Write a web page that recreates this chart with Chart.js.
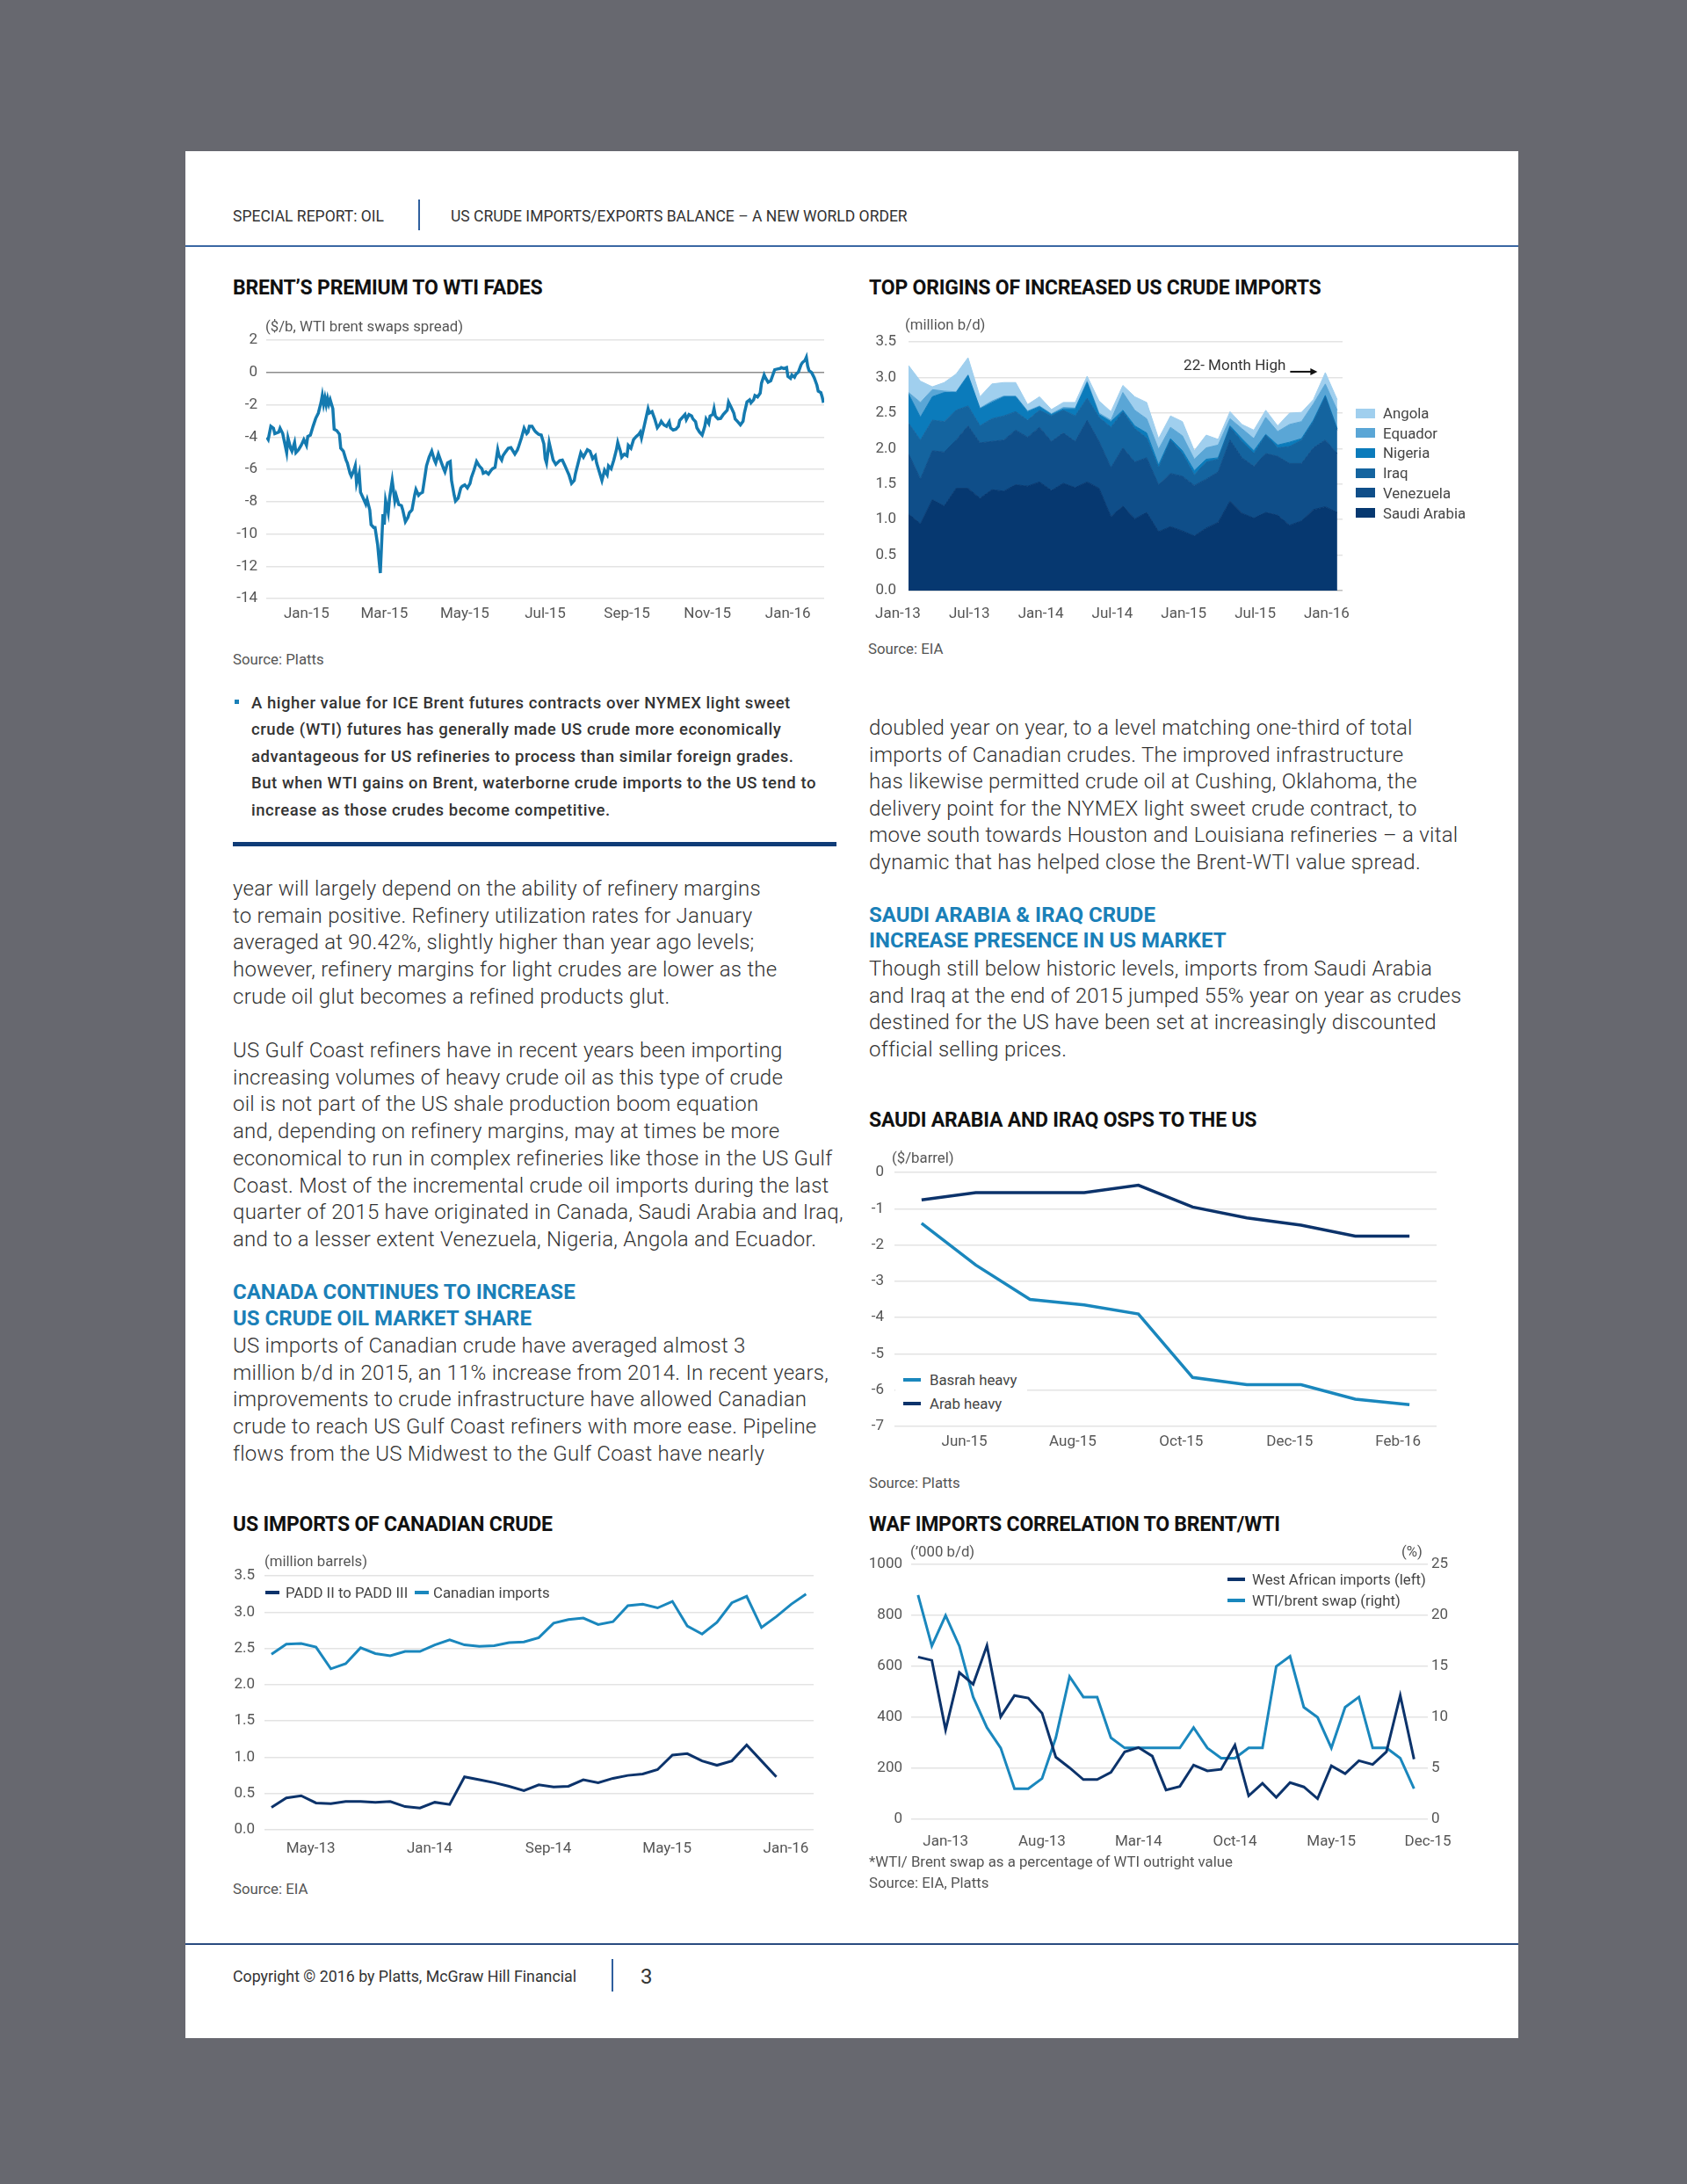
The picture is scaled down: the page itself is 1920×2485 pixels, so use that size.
<!DOCTYPE html>
<html>
<head>
<meta charset="utf-8">
<script src="https://cdn.jsdelivr.net/npm/chart.js@4.4.1/dist/chart.umd.min.js"></script>
<style>
html, body { margin: 0; padding: 0; }
body { width: 1920px; height: 2485px; background: #67686f; position: relative; overflow: hidden;
       font-family: Roboto, "Noto Sans", sans-serif; color: #333; }
#page { position: absolute; left: 211px; top: 172px; width: 1517px; height: 2147px; background: #fff; }
.t { position: absolute; white-space: nowrap; height: 30px; line-height: 30px; }
.blk { position: absolute; white-space: nowrap; }
.hdr { font-size: 17.5px; color: #333; }
.title { font-size: 23px; font-weight: 700; color: #111; letter-spacing: -0.2px; }
.sub { font-size: 16.8px; color: #555; }
.body { font-size: 24px; font-weight: 300; color: #333; line-height: 30.7px; letter-spacing: 0.25px; }
.head { font-size: 24px; font-weight: 700; color: #1a80b8; line-height: 30px; }
.bullet { font-size: 18.5px; font-weight: 500; color: #333; line-height: 30.45px; letter-spacing: 0.55px; }
.lg { position: absolute; height: 22px; line-height: 22px; font-size: 16.8px; color: #444; white-space: nowrap; }
.sw { position: absolute; }
.box { position: absolute; }
.rule { position: absolute; }
</style>
</head>
<body>
<div id="page"></div>

<!-- header -->
<div class="t hdr" style="left:265px;top:231px;">SPECIAL REPORT: OIL</div>
<div class="rule" style="left:476px;top:227px;width:1.5px;height:35px;background:#2f5f9e;"></div>
<div class="t hdr" style="left:513px;top:231px;">US CRUDE IMPORTS/EXPORTS BALANCE – A NEW WORLD ORDER</div>
<div class="rule" style="left:211px;top:279px;width:1517px;height:2px;background:#3a67a3;"></div>

<!-- chart canvases -->
<div class="box" style="left:262px;top:367px;width:706px;height:349px;"><canvas id="brentChart"></canvas></div>
<div class="box" style="left:980px;top:365px;width:593px;height:347px;"><canvas id="originChart"></canvas></div>
<div class="box" style="left:970px;top:1312px;width:685px;height:346px;"><canvas id="ospChart"></canvas></div>
<div class="box" style="left:255px;top:1772px;width:696px;height:350px;"><canvas id="canadaChart"></canvas></div>
<div class="box" style="left:985px;top:1760px;width:690px;height:350px;"><canvas id="wafChart"></canvas></div>

<!-- chart 1 texts -->
<div class="t title" style="left:265px;top:313px;">BRENT’S PREMIUM TO WTI FADES</div>
<div class="t sub" style="left:302px;top:356px;">($/b, WTI brent swaps spread)</div>
<div class="t sub" style="left:265px;top:735px;">Source: Platts</div>

<!-- chart 2 texts -->
<div class="t title" style="left:989px;top:313px;">TOP ORIGINS OF INCREASED US CRUDE IMPORTS</div>
<div class="t sub" style="left:1030px;top:354px;">(million b/d)</div>
<div class="t sub" style="left:988px;top:723px;">Source: EIA</div>
<div id="originLegend"></div>

<!-- bullet box -->
<div class="rule" style="left:267px;top:796px;width:5px;height:5px;background:#1a80b8;"></div>
<div class="blk bullet" style="left:286px;top:785px;">A higher value for ICE Brent futures contracts over NYMEX light sweet<br>crude (WTI) futures has generally made US crude more economically<br>advantageous for US refineries to process than similar foreign grades.<br>But when WTI gains on Brent, waterborne crude imports to the US tend to<br>increase as those crudes become competitive.</div>
<div class="rule" style="left:265px;top:958px;width:687px;height:5px;background:#0f3c77;"></div>

<!-- left column body -->
<div class="blk body" style="left:265px;top:996px;">year will largely depend on the ability of refinery margins<br>to remain positive. Refinery utilization rates for January<br>averaged at 90.42%, slightly higher than year ago levels;<br>however, refinery margins for light crudes are lower as the<br>crude oil glut becomes a refined products glut.</div>
<div class="blk body" style="left:265px;top:1180px;">US Gulf Coast refiners have in recent years been importing<br>increasing volumes of heavy crude oil as this type of crude<br>oil is not part of the US shale production boom equation<br>and, depending on refinery margins, may at times be more<br>economical to run in complex refineries like those in the US Gulf<br>Coast. Most of the incremental crude oil imports during the last<br>quarter of 2015 have originated in Canada, Saudi Arabia and Iraq,<br>and to a lesser extent Venezuela, Nigeria, Angola and Ecuador.</div>
<div class="blk head" style="left:265px;top:1455px;">CANADA CONTINUES TO INCREASE<br>US CRUDE OIL MARKET SHARE</div>
<div class="blk body" style="left:265px;top:1516px;">US imports of Canadian crude have averaged almost 3<br>million b/d in 2015, an 11% increase from 2014. In recent years,<br>improvements to crude infrastructure have allowed Canadian<br>crude to reach US Gulf Coast refiners with more ease. Pipeline<br>flows from the US Midwest to the Gulf Coast have nearly</div>

<!-- right column body -->
<div class="blk body" style="left:989px;top:813px;line-height:30.6px;">doubled year on year, to a level matching one-third of total<br>imports of Canadian crudes. The improved infrastructure<br>has likewise permitted crude oil at Cushing, Oklahoma, the<br>delivery point for the NYMEX light sweet crude contract, to<br>move south towards Houston and Louisiana refineries – a vital<br>dynamic that has helped close the Brent-WTI value spread.</div>
<div class="blk head" style="left:989px;top:1027px;line-height:29.3px;">SAUDI ARABIA &amp; IRAQ CRUDE<br>INCREASE PRESENCE IN US MARKET</div>
<div class="blk body" style="left:989px;top:1087px;line-height:30.5px;">Though still below historic levels, imports from Saudi Arabia<br>and Iraq at the end of 2015 jumped 55% year on year as crudes<br>destined for the US have been set at increasingly discounted<br>official selling prices.</div>

<!-- chart 3 texts -->
<div class="t title" style="left:989px;top:1260px;">SAUDI ARABIA AND IRAQ OSPS TO THE US</div>
<div class="t sub" style="left:1015px;top:1302px;">($/barrel)</div>
<div class="rule" style="left:1019px;top:1556px;width:150px;height:52px;background:#fff;"></div>
<div class="sw" style="left:1028px;top:1568px;width:20px;height:4px;background:#1a87bd;"></div>
<div class="lg" style="left:1058px;top:1559px;">Basrah heavy</div>
<div class="sw" style="left:1028px;top:1595px;width:20px;height:4px;background:#0c336b;"></div>
<div class="lg" style="left:1058px;top:1586px;">Arab heavy</div>
<div class="t sub" style="left:989px;top:1672px;">Source: Platts</div>

<!-- chart 4 texts -->
<div class="t title" style="left:265px;top:1720px;">US IMPORTS OF CANADIAN CRUDE</div>
<div class="t sub" style="left:301px;top:1761px;">(million barrels)</div>
<div class="sw" style="left:302px;top:1810px;width:16px;height:4px;background:#0c336b;"></div>
<div class="lg" style="left:325px;top:1801px;">PADD II to PADD III</div>
<div class="sw" style="left:472px;top:1810px;width:16px;height:4px;background:#1a87bd;"></div>
<div class="lg" style="left:493px;top:1801px;">Canadian imports</div>
<div class="t sub" style="left:265px;top:2134px;">Source: EIA</div>

<!-- chart 5 texts -->
<div class="t title" style="left:989px;top:1720px;">WAF IMPORTS CORRELATION TO BRENT/WTI</div>
<div class="t sub" style="left:1036px;top:1750px;">(’000 b/d)</div>
<div class="t sub" style="left:1595px;top:1750px;">(%)</div>
<div class="sw" style="left:1397px;top:1795px;width:20px;height:4px;background:#0c336b;"></div>
<div class="lg" style="left:1425px;top:1786px;">West African imports (left)</div>
<div class="sw" style="left:1397px;top:1819px;width:20px;height:4px;background:#1a87bd;"></div>
<div class="lg" style="left:1425px;top:1810px;">WTI/brent swap (right)</div>
<div class="t sub" style="left:989px;top:2103px;">*WTI/ Brent swap as a percentage of WTI outright value</div>
<div class="t sub" style="left:989px;top:2127px;">Source: EIA, Platts</div>

<!-- footer -->
<div class="rule" style="left:211px;top:2211px;width:1517px;height:2px;background:#2a4b80;"></div>
<div class="t hdr" style="left:265px;top:2234px;font-size:17.8px;">Copyright © 2016 by Platts, McGraw Hill Financial</div>
<div class="rule" style="left:696px;top:2229px;width:1.5px;height:37px;background:#2f5f9e;"></div>
<div class="t" style="left:729px;top:2234px;font-size:24px;color:#333;">3</div>

<script>
// ---- Brent's premium to WTI (days counted from 1 Jan 2015) ----
const brentDays = [-30,-29,-27,-25,-24,-21,-20,-18,-17,-15,-14,-12,-11,-9,-8,-6,-4,-2,0,1,3,5,7,9,11,12,13,14,15,16,17,18,20,21,23,25,26,28,30,31,33,34,36,37,38,40,41,43,45,46,48,49,51,52,54,55,56,58,59,60,62,63,65,67,68,70,72,73,75,77,78,80,82,83,85,86,88,90,91,93,95,97,98,100,102,104,105,107,109,110,112,113,115,117,118,120,122,124,125,127,129,131,133,134,136,138,140,141,143,145,146,148,149,151,153,155,156,158,160,161,163,165,167,168,169,171,173,174,176,178,180,181,182,184,185,187,189,192,194,196,198,199,201,203,204,206,208,210,213,215,217,219,220,222,224,226,228,229,231,233,235,236,238,239,241,243,244,246,248,250,252,253,254,256,257,259,260,262,264,266,268,269,271,273,275,276,278,280,282,283,285,287,288,290,292,293,295,296,298,300,302,303,305,306,308,309,310,312,314,316,317,319,320,322,324,325,327,329,331,332,334,336,337,339,340,342,344,345,347,348,350,352,354,355,357,359,360,362,364,365,367,368,370,371,373,375,376,378,379,380,381,383,385,387,388,390,391,392];
const brentSpread = [-4.02,-4.15,-3.33,-3.45,-3.78,-3.69,-3.45,-3.78,-4.18,-4.96,-4.05,-4.69,-4.87,-4.33,-4.96,-4.78,-4.51,-4.15,-4.51,-3.96,-3.87,-3.33,-2.84,-2.51,-1.87,-1.42,-1.96,-1.56,-2.0,-1.6,-1.96,-1.69,-2.24,-3.51,-3.6,-3.82,-4.69,-4.87,-5.42,-5.6,-6.24,-6.42,-6.05,-5.78,-6.87,-6.24,-7.42,-7.78,-8.15,-7.87,-8.51,-9.42,-9.6,-9.6,-10.69,-11.6,-12.42,-8.78,-9.42,-7.93,-8.69,-7.78,-6.69,-7.96,-7.6,-8.18,-8.24,-8.51,-9.24,-8.96,-8.69,-8.51,-7.6,-7.24,-7.6,-7.51,-7.42,-6.33,-5.78,-5.24,-4.87,-5.42,-5.6,-5.05,-5.51,-5.96,-6.15,-5.6,-5.51,-6.69,-7.6,-7.96,-7.78,-7.15,-7.05,-6.96,-7.15,-6.87,-6.51,-6.05,-5.51,-5.78,-5.96,-6.24,-6.15,-6.29,-6.05,-5.96,-5.87,-4.78,-5.15,-5.42,-5.15,-4.91,-4.69,-4.65,-4.78,-5.05,-4.78,-4.55,-4.05,-3.45,-3.78,-3.69,-3.33,-3.33,-3.6,-3.69,-3.82,-3.87,-4.42,-5.33,-5.6,-4.33,-4.69,-5.42,-5.69,-5.45,-5.42,-5.78,-6.15,-6.33,-6.87,-6.69,-6.24,-5.6,-4.96,-5.24,-4.78,-4.87,-5.33,-5.15,-5.6,-6.15,-6.69,-6.05,-6.33,-5.78,-5.96,-5.42,-4.78,-4.33,-4.87,-5.24,-5.05,-5.15,-4.51,-4.69,-4.15,-3.96,-3.82,-3.69,-4.05,-3.33,-2.96,-2.24,-2.51,-2.42,-2.87,-3.42,-3.2,-3.02,-3.24,-3.33,-3.05,-3.42,-3.56,-3.51,-3.33,-2.96,-2.78,-2.6,-2.91,-2.6,-2.69,-2.87,-3.05,-3.42,-3.69,-3.87,-3.33,-2.87,-3.15,-2.69,-2.6,-2.24,-2.69,-2.87,-2.84,-2.6,-2.51,-2.33,-1.82,-2.15,-2.51,-2.87,-3.05,-3.24,-3.02,-2.51,-1.82,-1.69,-1.87,-1.69,-1.42,-1.51,-1.27,-0.65,-0.15,-0.33,-0.6,-0.51,-0.05,0.18,0.22,0.25,0.31,0.25,0.31,-0.24,-0.36,-0.15,-0.29,-0.11,0.04,0.49,0.62,0.76,0.95,0.4,0.13,0,-0.33,-0.78,-1.15,-1.24,-1.51,-1.87];
const brentTickDays = [0, 59, 120, 181, 243, 304, 365];
const brentTickLabels = ['Jan-15', 'Mar-15', 'May-15', 'Jul-15', 'Sep-15', 'Nov-15', 'Jan-16'];

// ---- Top origins of US crude imports (million b/d) ----
const originMonths = ['Jan-13','Feb-13','Mar-13','Apr-13','May-13','Jun-13','Jul-13','Aug-13','Sep-13','Oct-13','Nov-13','Dec-13',
  'Jan-14','Feb-14','Mar-14','Apr-14','May-14','Jun-14','Jul-14','Aug-14','Sep-14','Oct-14','Nov-14','Dec-14',
  'Jan-15','Feb-15','Mar-15','Apr-15','May-15','Jun-15','Jul-15','Aug-15','Sep-15','Oct-15','Nov-15','Dec-15','Jan-16'];
const originTickMonths = ['Jan-13', 'Jul-13', 'Jan-14', 'Jul-14', 'Jan-15', 'Jul-15', 'Jan-16'];
const saudiArabia = [1.08,0.94,1.28,1.19,1.44,1.44,1.30,1.42,1.40,1.49,1.47,1.53,1.41,1.51,1.45,1.53,1.44,1.04,1.19,1.01,1.10,0.83,0.90,0.84,0.77,0.88,0.96,1.26,1.09,1.02,1.10,1.06,0.92,0.98,1.14,1.18,1.10];
const venezuela = [0.85,0.63,0.69,0.76,0.68,0.88,0.78,0.68,0.72,0.77,0.69,0.77,0.69,0.71,0.65,0.87,0.66,0.69,0.82,0.80,0.77,0.66,0.75,0.77,0.71,0.69,0.71,0.86,0.78,0.73,0.83,0.83,0.87,0.81,0.87,0.94,0.83];
const iraq = [0.43,0.55,0.43,0.43,0.42,0.28,0.24,0.32,0.34,0.26,0.24,0.24,0.36,0.32,0.36,0.31,0.34,0.57,0.51,0.47,0.28,0.24,0.47,0.32,0.15,0.24,0.18,0.18,0.23,0.18,0.26,0.12,0.24,0.33,0.37,0.61,0.33];
const nigeria = [0.41,0.32,0.33,0.41,0.25,0.43,0.24,0.23,0.27,0.21,0.12,0.05,0.02,0.02,0.10,0.22,0.04,0.08,0.02,0.04,0.07,0.04,0.02,0.04,0.06,0.04,0.02,0.02,0.04,0.04,0.01,0.04,0.06,0.02,0.02,0.02,0.02];
const equador = [0.02,0.21,0.10,0.02,0.01,0.01,0.01,0.02,0.01,0.01,0.01,0.01,0.01,0.02,0.01,0.02,0.02,0.02,0.25,0.22,0.20,0.22,0.16,0.21,0.16,0.16,0.18,0.10,0.14,0.17,0.24,0.19,0.25,0.24,0.23,0.16,0.26];
const angola = [0.38,0.30,0.04,0.12,0.25,0.24,0.16,0.24,0.19,0.19,0.09,0.13,0.06,0.07,0.08,0.07,0.17,0.12,0.10,0.19,0.23,0.15,0.16,0.20,0.12,0.18,0.08,0.10,0.06,0.12,0.10,0.08,0.16,0.13,0.06,0.16,0.15];
const highMonth = 'Dec-15';

// ---- Saudi Arabia and Iraq OSPs to the US ($/barrel) ----
const ospMonths = ['May-15','Jun-15','Jul-15','Aug-15','Sep-15','Oct-15','Nov-15','Dec-15','Jan-16','Feb-16'];
const basrahHeavy = [-1.40,-2.55,-3.50,-3.65,-3.90,-5.65,-5.85,-5.85,-6.25,-6.40];
const arabHeavy = [-0.75,-0.55,-0.55,-0.55,-0.35,-0.95,-1.25,-1.45,-1.75,-1.75];

// ---- US imports of Canadian crude (million barrels) ----
const canadaMonths = ['Feb-13','Mar-13','Apr-13','May-13','Jun-13','Jul-13','Aug-13','Sep-13','Oct-13','Nov-13','Dec-13',
  'Jan-14','Feb-14','Mar-14','Apr-14','May-14','Jun-14','Jul-14','Aug-14','Sep-14','Oct-14','Nov-14','Dec-14',
  'Jan-15','Feb-15','Mar-15','Apr-15','May-15','Jun-15','Jul-15','Aug-15','Sep-15','Oct-15','Nov-15','Dec-15',
  'Jan-16','Feb-16'];
const canadaTickMonths = ['May-13', 'Jan-14', 'Sep-14', 'May-15', 'Jan-16'];
const canadianImports = [2.42,2.56,2.57,2.52,2.22,2.29,2.51,2.43,2.40,2.46,2.46,2.55,2.62,2.55,2.53,2.54,2.58,2.59,2.65,2.85,2.90,2.92,2.83,2.87,3.09,3.11,3.06,3.15,2.81,2.70,2.86,3.13,3.22,2.79,2.94,3.11,3.25];
const paddIItoIII = [0.31,0.44,0.47,0.37,0.36,0.39,0.39,0.38,0.39,0.32,0.30,0.38,0.35,0.73,0.69,0.65,0.60,0.54,0.62,0.59,0.60,0.69,0.65,0.71,0.75,0.77,0.83,1.03,1.05,0.95,0.89,0.95,1.17,0.95,0.73];

// ---- WAF imports vs Brent/WTI ----
const wafMonths = ['Nov-12','Dec-12',
  'Jan-13','Feb-13','Mar-13','Apr-13','May-13','Jun-13','Jul-13','Aug-13','Sep-13','Oct-13','Nov-13','Dec-13',
  'Jan-14','Feb-14','Mar-14','Apr-14','May-14','Jun-14','Jul-14','Aug-14','Sep-14','Oct-14','Nov-14','Dec-14',
  'Jan-15','Feb-15','Mar-15','Apr-15','May-15','Jun-15','Jul-15','Aug-15','Sep-15','Oct-15','Nov-15','Dec-15'];
const wafTickMonths = ['Jan-13', 'Aug-13', 'Mar-14', 'Oct-14', 'May-15', 'Dec-15'];
const westAfricanImports = [637,624,351,576,530,682,403,486,476,417,244,202,156,156,184,265,282,248,115,129,213,190,196,291,92,141,86,144,127,81,210,179,230,215,265,486,236];
const wtiBrentSwap = [22,17,20,17,12,9,7,3,3,4,8,14,12,12,8,7,7,7,7,7,9,7,6,6,7,7,15,16,11,10,7,11,12,7,7,6,3];

const LIGHT = '#1a87bd', NAVY = '#0c336b';

Chart.defaults.font.family = 'Roboto, "Noto Sans", sans-serif';
Chart.defaults.font.size = 17;
Chart.defaults.color = '#555';
Chart.defaults.animation = false;
Chart.defaults.plugins.legend.display = false;
Chart.defaults.plugins.tooltip.enabled = false;
Chart.defaults.elements.point.radius = 0;
Chart.defaults.elements.line.tension = 0;

const fixW = w => s => { s.width = w; };
const fixH = h => s => { s.height = h; };
const xy = (xs, ys) => ys.map((v, i) => ({ x: xs[i], y: v }));
const idx = ys => ys.map((v, i) => ({ x: i, y: v }));
const gridY = (zero) => ({
    color: c => (c.tick && c.tick.value === 0 && zero) ? zero : '#e3e3e3',
    lineWidth: 1.5, drawTicks: false,
});
const monthTicks = (months, wanted) => s => { s.ticks = wanted.map(m => ({ value: months.indexOf(m) })); };

// chart 1
new Chart(document.getElementById('brentChart'), {
    type: 'line',
    data: { datasets: [{ data: xy(brentDays, brentSpread), borderColor: '#147ab0', borderWidth: 3.5, fill: false }] },
    options: {
        responsive: true, maintainAspectRatio: false,
        layout: { padding: { top: 20, right: 30, left: 0, bottom: 0 } },
        scales: {
            x: {
                type: 'linear', min: -30.5, max: 392.5,
                afterBuildTicks: s => { s.ticks = brentTickDays.map(v => ({ value: v })); },
                afterFit: fixH(35),
                grid: { display: false, drawTicks: false }, border: { display: false },
                ticks: { autoSkip: false, maxRotation: 0, padding: 8, callback: (v, i) => brentTickLabels[i] },
            },
            y: {
                min: -14, max: 2, afterFit: fixW(41),
                grid: gridY('#8c8c8c'), border: { display: false },
                ticks: { stepSize: 2, padding: 10 },
            },
        },
    },
});

// chart 2
const originSeries = [
    { name: 'Saudi Arabia', data: saudiArabia, color: '#063870' },
    { name: 'Venezuela', data: venezuela, color: '#0f4e89' },
    { name: 'Iraq', data: iraq, color: '#14649f' },
    { name: 'Nigeria', data: nigeria, color: '#0b7bbb' },
    { name: 'Equador', data: equador, color: '#5aa6d6' },
    { name: 'Angola', data: angola, color: '#a0cfee' },
];
const highArrow = {
    id: 'highArrow',
    afterDatasetsDraw(chart) {
        const { ctx, scales: { x, y } } = chart;
        const i = originMonths.indexOf(highMonth);
        const total = originSeries.reduce((s, d) => s + d.data[i], 0);
        const tx = x.getPixelForValue(i) - 9, ty = y.getPixelForValue(total) - 1;
        ctx.save();
        ctx.strokeStyle = '#111'; ctx.fillStyle = '#111'; ctx.lineWidth = 2;
        ctx.beginPath(); ctx.moveTo(tx - 31, ty); ctx.lineTo(tx - 4, ty); ctx.stroke();
        ctx.beginPath(); ctx.moveTo(tx, ty); ctx.lineTo(tx - 8, ty - 4); ctx.lineTo(tx - 8, ty + 4); ctx.closePath(); ctx.fill();
        ctx.fillStyle = '#333'; ctx.font = '17px Roboto, sans-serif';
        ctx.textAlign = 'right'; ctx.textBaseline = 'middle';
        ctx.fillText('22- Month High', tx - 36, ty - 6);
        ctx.restore();
    },
};
new Chart(document.getElementById('originChart'), {
    type: 'line',
    data: {
        datasets: originSeries.map((s, k) => ({
            label: s.name, data: idx(s.data), backgroundColor: s.color, borderColor: s.color,
            borderWidth: 1, fill: k === 0 ? 'origin' : '-1',
        })),
    },
    options: {
        responsive: true, maintainAspectRatio: false,
        layout: { padding: { top: 20, right: 45, left: 0, bottom: 0 } },
        scales: {
            x: {
                type: 'linear', min: 0, max: 36.45,
                afterBuildTicks: monthTicks(originMonths, originTickMonths),
                afterFit: fixH(40),
                grid: { display: false, drawTicks: false }, border: { display: false },
                ticks: { autoSkip: false, maxRotation: 0, padding: 17, labelOffset: -12, callback: (v, i) => originTickMonths[i] },
            },
            y: {
                stacked: true, min: 0, max: 3.5, afterFit: fixW(54),
                grid: gridY('#bdbdbd'), border: { display: false },
                ticks: { stepSize: 0.5, padding: 14, callback: v => v.toFixed(1) },
            },
        },
    },
    plugins: [highArrow],
});
document.getElementById('originLegend').innerHTML = originSeries.slice().reverse().map((s, k) => {
    const yc = 470 + k * 22.7;
    return `<div class="sw" style="left:1543px;top:${yc - 5.5}px;width:22px;height:11px;background:${s.color};"></div>` +
           `<div class="lg" style="left:1574px;top:${yc - 11}px;">${s.name}</div>`;
}).join('');

// chart 3
new Chart(document.getElementById('ospChart'), {
    type: 'line',
    data: {
        labels: ospMonths,
        datasets: [
            { label: 'Basrah heavy', data: basrahHeavy, borderColor: LIGHT, borderWidth: 3.5 },
            { label: 'Arab heavy', data: arabHeavy, borderColor: NAVY, borderWidth: 3.5 },
        ],
    },
    options: {
        responsive: true, maintainAspectRatio: false,
        layout: { padding: { top: 20, right: 20, left: 0, bottom: 0 } },
        scales: {
            x: {
                offset: true, afterFit: fixH(35),
                grid: { display: false, drawTicks: false }, border: { display: false },
                ticks: { autoSkip: false, maxRotation: 0, padding: 8, labelOffset: -13,
                         callback: (v, i) => (i % 2 === 1 ? ospMonths[i] : '') },
            },
            y: {
                min: -7, max: 0, afterFit: fixW(48),
                grid: gridY(null), border: { display: false },
                ticks: { stepSize: 1, padding: 12 },
            },
        },
    },
});

// chart 4
new Chart(document.getElementById('canadaChart'), {
    type: 'line',
    data: {
        datasets: [
            { label: 'PADD II to PADD III', data: idx(paddIItoIII), borderColor: NAVY, borderWidth: 3 },
            { label: 'Canadian imports', data: idx(canadianImports), borderColor: LIGHT, borderWidth: 3 },
        ],
    },
    options: {
        responsive: true, maintainAspectRatio: false,
        layout: { padding: { top: 20, right: 25, left: 0, bottom: 0 } },
        scales: {
            x: {
                type: 'linear', min: -0.47, max: 36.51,
                afterBuildTicks: monthTicks(canadaMonths, canadaTickMonths),
                afterFit: fixH(40),
                grid: { display: false, drawTicks: false }, border: { display: false },
                ticks: { autoSkip: false, maxRotation: 0, padding: 12, labelOffset: -6, callback: (v, i) => canadaTickMonths[i] },
            },
            y: {
                min: 0, max: 3.5, afterFit: fixW(46),
                grid: gridY(null), border: { display: false },
                ticks: { stepSize: 0.5, padding: 11, callback: v => v.toFixed(1) },
            },
        },
    },
});

// chart 5
new Chart(document.getElementById('wafChart'), {
    type: 'line',
    data: {
        datasets: [
            { label: 'West African imports (left)', data: idx(westAfricanImports), borderColor: NAVY, borderWidth: 3, yAxisID: 'y' },
            { label: 'WTI/brent swap (right)', data: idx(wtiBrentSwap), borderColor: LIGHT, borderWidth: 3, yAxisID: 'y1' },
        ],
    },
    options: {
        responsive: true, maintainAspectRatio: false,
        layout: { padding: { top: 20, right: 15, left: 0, bottom: 0 } },
        scales: {
            x: {
                type: 'linear', min: -0.5, max: 37,
                afterBuildTicks: monthTicks(wafMonths, wafTickMonths),
                afterFit: fixH(40),
                grid: { display: false, drawTicks: false }, border: { display: false },
                ticks: { autoSkip: false, maxRotation: 0, padding: 16, callback: (v, i) => wafTickMonths[i] },
            },
            y: {
                position: 'left', min: 0, max: 1000, afterFit: fixW(52),
                grid: gridY(null), border: { display: false },
                ticks: { stepSize: 200, padding: 10, callback: v => String(v) },
            },
            y1: {
                position: 'right', min: 0, max: 25, afterFit: fixW(35),
                grid: { display: false, drawTicks: false }, border: { display: false },
                ticks: { stepSize: 5, padding: 4 },
            },
        },
    },
});
</script>
</body>
</html>
